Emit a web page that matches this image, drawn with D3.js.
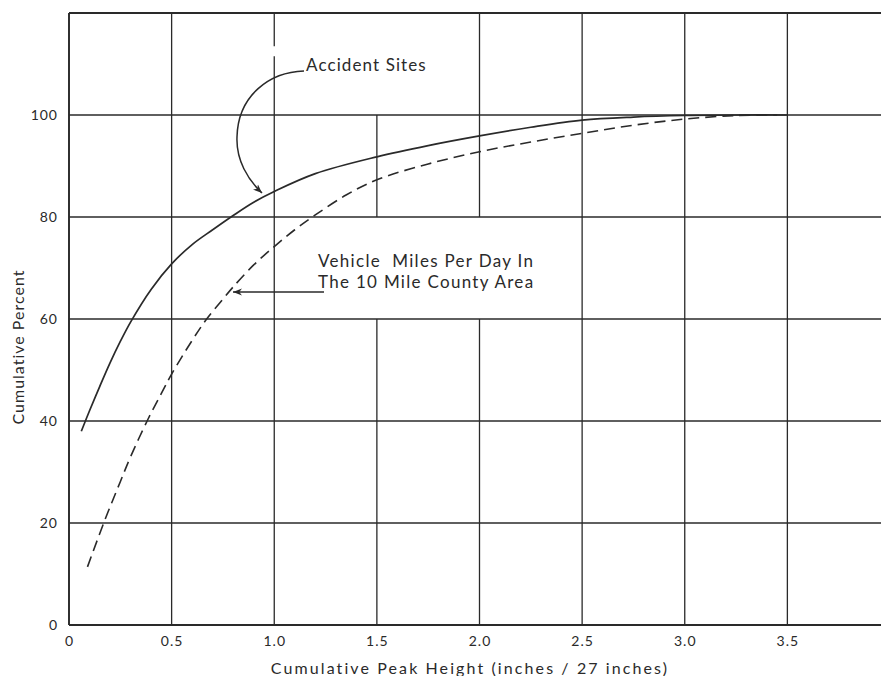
<!DOCTYPE html>
<html><head><meta charset="utf-8">
<script src="https://cdn.jsdelivr.net/npm/d3@7"></script>
<style>body{margin:0;background:#fff}svg{display:block}</style>
</head><body>
<svg id="c" width="881" height="676"></svg>
<script>
// ---- data ----
const xTicks = [0, 0.5, 1.0, 1.5, 2.0, 2.5, 3.0, 3.5];
const xTickLabels = ["0", "0.5", "1.0", "1.5", "2.0", "2.5", "3.0", "3.5"];
const yTicks = [0, 20, 40, 60, 80, 100];
const yTickLabels = ["0", "20", "40", "60", "80", "100"];
const accidentX = [0.06, 0.1, 0.15, 0.2, 0.25, 0.3, 0.4, 0.5, 0.6, 0.7, 0.8, 0.9, 1.0, 1.2, 1.5, 1.75, 2.0, 2.25, 2.5, 2.75, 3.0, 3.25, 3.5];
const accidentY = [38, 42, 46.8, 51.4, 55.6, 59.4, 65.8, 70.8, 74.6, 77.5, 80.3, 82.9, 85, 88.5, 91.8, 94, 95.9, 97.6, 99, 99.6, 99.9, 100, 100];
const vehicleX = [0.09, 0.172, 0.25, 0.3, 0.383, 0.45, 0.5, 0.6, 0.667, 0.75, 0.8, 0.9, 1.0, 1.1, 1.2, 1.35, 1.5, 1.75, 2.0, 2.25, 2.5, 2.75, 3.0, 3.25, 3.45];
const vehicleY = [11.4, 20.3, 28.1, 33, 40.2, 45.4, 49.2, 55.8, 59.8, 63.9, 66.3, 70.6, 74.2, 77.5, 80.4, 84.3, 87.3, 90.4, 92.8, 94.7, 96.4, 98, 99.2, 99.9, 100];
const labelAccident = "Accident Sites";
const labelVehicle = ["Vehicle  Miles Per Day In", "The 10 Mile County Area"];
const xTitle = "Cumulative Peak Height (inches / 27 inches)";
const yTitle = "Cumulative Percent";

// ---- layout ----
const svg = d3.select("#c");
const x = d3.scaleLinear().domain([0, 4]).range([69, 890]);
const y = d3.scaleLinear().domain([0, 120]).range([625, 13]);
const ink = "#2a2a2a";
const font = "Lato, 'DejaVu Sans', sans-serif";

const defs = svg.append("defs");
defs.append("marker").attr("id", "ah").attr("viewBox", "0 0 10 10")
  .attr("refX", 10).attr("refY", 5).attr("markerWidth", 9).attr("markerHeight", 9)
  .attr("markerUnits", "userSpaceOnUse").attr("orient", "auto")
  .append("path").attr("d", "M0,1 L10,5 L0,9 L3,5 Z").attr("fill", ink);

// gridlines: vertical with gaps (data units of y)
const vGaps = {1.0: [[111.5, 113.5]], 1.5: [[100, 120], [60, 80]], 2.0: [[60, 80]]};
const grid = svg.append("g").attr("stroke", ink).attr("stroke-width", 1.3).attr("fill", "none");
xTicks.forEach(t => {
  let segs = [[0, 120]];
  (vGaps[t] || []).forEach(g => {
    const out = [];
    segs.forEach(s => {
      if (g[1] <= s[0] || g[0] >= s[1]) { out.push(s); return; }
      if (g[0] > s[0]) out.push([s[0], g[0]]);
      if (g[1] < s[1]) out.push([g[1], s[1]]);
    });
    segs = out;
  });
  segs.forEach(s => grid.append("line").attr("x1", x(t)).attr("x2", x(t)).attr("y1", y(s[0])).attr("y2", y(s[1])));
});
yTicks.concat([120]).forEach(t => {
  grid.append("line").attr("x1", x(0)).attr("x2", 881).attr("y1", y(t)).attr("y2", y(t));
});
// frame emphasis
svg.append("line").attr("x1", x(0)).attr("x2", x(0)).attr("y1", y(0)).attr("y2", y(120)).attr("stroke", ink).attr("stroke-width", 1.8);
svg.append("line").attr("x1", x(0)).attr("x2", 881).attr("y1", y(0)).attr("y2", y(0)).attr("stroke", ink).attr("stroke-width", 1.8);
svg.append("line").attr("x1", x(0)).attr("x2", 881).attr("y1", y(120)).attr("y2", y(120)).attr("stroke", ink).attr("stroke-width", 1.8);

// axes labels via d3 axes (no domain/ticks lines)
const xAxis = d3.axisBottom(x).tickValues(xTicks).tickFormat((d, i) => xTickLabels[i]).tickSize(0).tickPadding(11);
const gx = svg.append("g").attr("transform", `translate(0,${y(0)})`).call(xAxis);
gx.select(".domain").remove();
gx.selectAll("text").attr("font-family", font).attr("font-size", 14).attr("fill", ink).attr("letter-spacing", 1);
const yAxis = d3.axisLeft(y).tickValues(yTicks).tickFormat((d, i) => yTickLabels[i]).tickSize(0).tickPadding(11);
const gy = svg.append("g").attr("transform", `translate(${x(0)},0)`).call(yAxis);
gy.select(".domain").remove();
gy.selectAll("text").attr("font-family", font).attr("font-size", 14).attr("fill", ink).attr("letter-spacing", 1);

// curves
const line = d3.line().x(d => x(d[0])).y(d => y(d[1])).curve(d3.curveCatmullRom.alpha(0.5));
svg.append("path").datum(accidentX.map((v, i) => [v, accidentY[i]]))
  .attr("d", line).attr("fill", "none").attr("stroke", ink).attr("stroke-width", 1.7);
svg.append("path").datum(vehicleX.map((v, i) => [v, vehicleY[i]]))
  .attr("d", line).attr("fill", "none").attr("stroke", ink).attr("stroke-width", 1.6)
  .attr("stroke-dasharray", "11,6");

// annotations
svg.append("text").attr("x", 306).attr("y", 71).text(labelAccident)
  .attr("font-family", font).attr("font-size", 17).attr("fill", ink).attr("letter-spacing", 1.1);
svg.append("path").attr("d", "M304,71 C270,72 238,95 237,137 C236,160 248,180 262,193")
  .attr("fill", "none").attr("stroke", ink).attr("stroke-width", 1.5).attr("marker-end", "url(#ah)");

labelVehicle.forEach((t, i) => {
  svg.append("text").attr("x", 318).attr("y", 267 + i * 21).text(t)
    .attr("font-family", font).attr("font-size", 17).attr("fill", ink).attr("letter-spacing", 1.3)
    .style("white-space", "pre");
});
svg.append("path").attr("d", "M324,292 L233,292")
  .attr("fill", "none").attr("stroke", ink).attr("stroke-width", 1.4).attr("marker-end", "url(#ah)");

// titles
svg.append("text").attr("x", 470).attr("y", 674).attr("text-anchor", "middle").text(xTitle)
  .attr("font-family", font).attr("font-size", 16).attr("fill", ink).attr("letter-spacing", 2.1)
  .style("white-space", "pre");
svg.append("text").attr("transform", "translate(24,347) rotate(-90)").attr("text-anchor", "middle").text(yTitle)
  .attr("font-family", font).attr("font-size", 16).attr("fill", ink).attr("letter-spacing", 1);
</script>
</body></html>
